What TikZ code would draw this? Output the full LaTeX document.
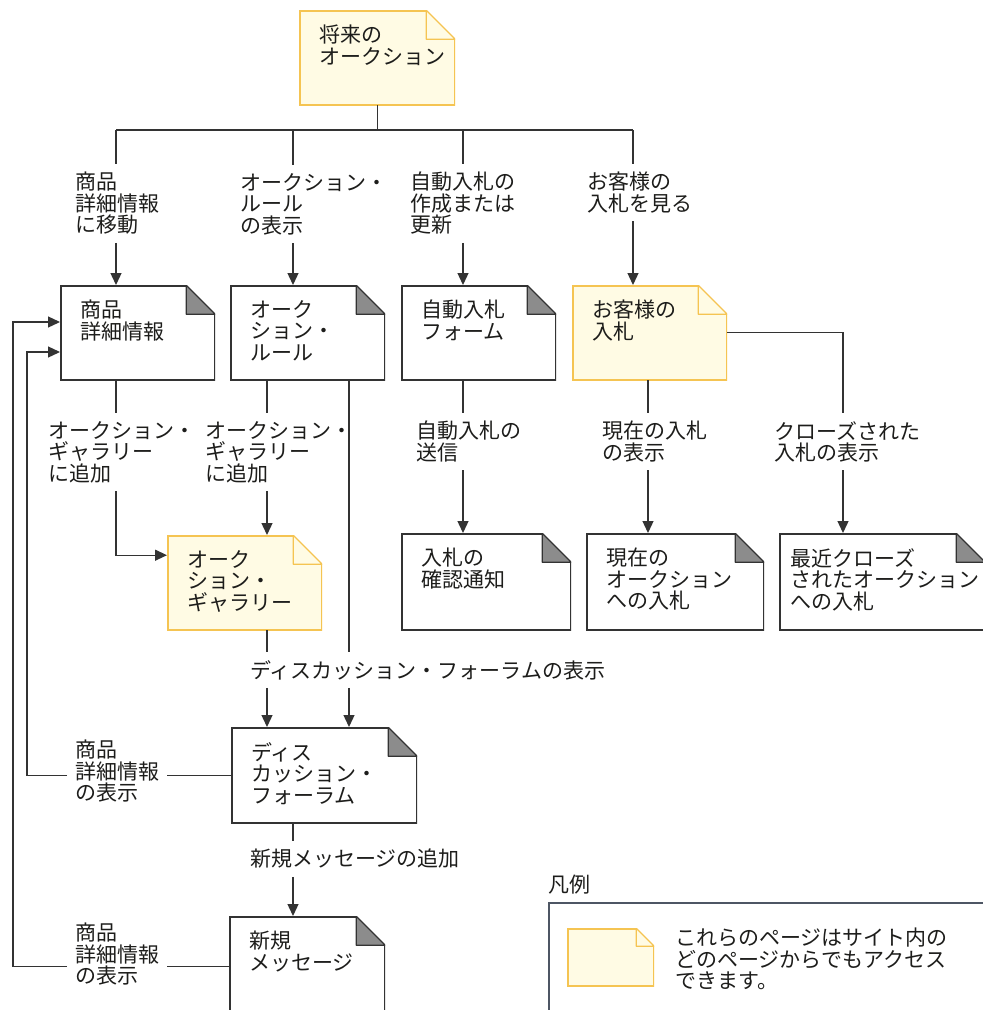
\documentclass[tikz,border=0pt]{standalone}
\usepackage{fontspec}
\setmainfont{Noto Sans CJK JP}
\usetikzlibrary{arrows.meta}
\definecolor{colorline}  {RGB}{51 ,51 ,51 }
\definecolor{colortext}  {RGB}{29 ,29 ,27 }
\definecolor{colorpage}  {RGB}{255,251,228}
\definecolor{colorborder}{RGB}{245,196,82 }
\definecolor{colorfold}  {RGB}{140,140,140}
\definecolor{colorlegend}{RGB}{78 ,86 ,100}
\def\foldsize{29pt}
\def\textinset{20pt}

\begin{document}
\begin{tikzpicture}[
    x=1pt, y=-1pt,
    font={\fontsize{21pt}{21.5pt}\selectfont},
    text=colortext,
    link/.style={draw=colorline,line width=1.3pt},
    linkarrow/.style={link,-{Triangle[length=12pt,width=11pt]}},
    txt/.style={anchor=north west,inner sep=8pt,align=left},
    sheet/.style n args={3}{anchor=north west,inner sep=0pt,fill=white,
        path picture={
            \fill[#1] ([xshift=-\foldsize]path picture bounding box.north east) -- (path picture bounding box.north west) -- (path picture bounding box.south west) -- (path picture bounding box.south east) -- ([yshift=-\foldsize]path picture bounding box.north east) -- cycle;
            \filldraw[fill=#3,draw=#2,line width=1.2pt,line join=round] ([xshift=-\foldsize]path picture bounding box.north east) -- ([xshift=-\foldsize,yshift=-\foldsize]path picture bounding box.north east) -- ([yshift=-\foldsize]path picture bounding box.north east) -- cycle;
            \draw[#2,line width=2.6pt] ([xshift=-\foldsize]path picture bounding box.north east) -- (path picture bounding box.north west) -- (path picture bounding box.south west) -- (path picture bounding box.south east) -- ([yshift=-\foldsize]path picture bounding box.north east);
        }},
    sheettext/.style 2 args={
        execute at begin node={\begin{minipage}[t][#2][t]{#1}\leftskip=\textinset\relax\vspace*{15pt}},
        execute at end node={\end{minipage}}},
    whitepage/.style 2 args={sheet={white}{colorline}{colorfold},sheettext={#1}{#2}},
    anypage/.style 2 args={sheet={colorpage}{colorborder}{colorpage},sheettext={#1}{#2}},
    small fold/.code={\def\foldsize{18pt}},
    narrow text/.code={\def\textinset{11pt}},
]
    \useasboundingbox (0,0) rectangle (983,1010);

    % Pages
    \node[anypage={156pt}{95pt}]                (future)   at (299,10)  {将来の\\オークション};
    \node[whitepage={155pt}{95pt}]              (detail)   at (60,285)  {商品\\詳細情報};
    \node[whitepage={155pt}{95pt}]              (rules)    at (230,285) {オーク\\ション・\\ルール};
    \node[whitepage={155pt}{95pt}]              (autoform) at (401,285) {自動入札\\フォーム};
    \node[anypage={155pt}{95pt}]                (mybids)   at (572,285) {お客様の\\入札};
    \node[anypage={155pt}{95pt}]                (gallery)  at (167,535) {オーク\\ション・\\ギャラリー};
    \node[whitepage={170pt}{97pt}]              (confirm)  at (401,533) {入札の\\確認通知};
    \node[whitepage={178pt}{97pt}]              (current)  at (586,533) {現在の\\オークション\\への入札};
    \node[whitepage={206pt}{97pt},narrow text]  (closed)   at (779,533) {最近クローズ\\されたオークション\\への入札};
    \node[whitepage={186pt}{96pt}]              (forum)    at (231,727) {ディス\\カッション・\\フォーラム};
    \node[whitepage={156pt}{110pt}]             (newmsg)   at (229,916) {新規\\メッセージ};

    % Labels
    \node[txt] (gotodetail)  at (67,164)  {商品\\詳細情報\\に移動};
    \node[txt] (showrules)   at (232,165) {オークション・\\ルール\\の表示};
    \node[txt] (editauto)    at (402,164) {自動入札の\\作成または\\更新};
    \node[txt] (viewbids)    at (579,164) {お客様の\\入札を見る};
    \node[txt] (addgal1)     at (40,413)  {オークション・\\ギャラリー\\に追加};
    \node[txt] (addgal2)     at (197,413) {オークション・\\ギャラリー\\に追加};
    \node[txt] (sendauto)    at (408,413) {自動入札の\\送信};
    \node[txt] (showcurrent) at (594,413) {現在の入札\\の表示};
    \node[txt] (showclosed)  at (766,413) {クローズされた\\入札の表示};
    \node[txt] (showforum)   at (242,652) {ディスカッション・フォーラムの表示};
    \node[txt] (addmsg)      at (242,841) {新規メッセージの追加};
    \node[txt] (detailback1) at (67,732)  {商品\\詳細情報\\の表示};
    \node[txt] (detailback2) at (67,915)  {商品\\詳細情報\\の表示};

    % Columns
    \coordinate (bar1) at (116,130);
    \coordinate (bar2) at (293,130);
    \coordinate (bar3) at (463,130);
    \coordinate (bar4) at (633,130);
    \coordinate (colgal)    at (267,380);
    \coordinate (colforum)  at (349,380);
    \coordinate (colcur)    at (648,380);
    \coordinate (colclosed) at (843,330);
    \coordinate (ret1) at (27,352);
    \coordinate (ret2) at (13,322);
    \coordinate (galin)   at ([yshift=27.5pt]gallery.west);
    \coordinate (msgleft) at ([yshift=4.5pt]newmsg.west);

    % Top bar
    \draw[link] (future.south) -- (future.south |- bar1);
    \draw[link] (bar1) -- (bar4);
    \draw[link] (bar1) -- (bar1 |- gotodetail.north);
    \draw[link] (bar2) -- (bar2 |- showrules.north);
    \draw[link] (bar3) -- (bar3 |- editauto.north);
    \draw[link] (bar4) -- (bar4 |- viewbids.north);
    \draw[linkarrow] (bar1 |- gotodetail.south) -- (bar1 |- detail.north);
    \draw[linkarrow] (bar2 |- showrules.south)  -- (bar2 |- rules.north);
    \draw[linkarrow] (bar3 |- editauto.south)   -- (bar3 |- autoform.north);
    \draw[linkarrow] (bar4 |- viewbids.south)   -- (bar4 |- mybids.north);

    % Second row
    \draw[link] (bar1 |- detail.south) -- (bar1 |- addgal1.north);
    \draw[linkarrow] (bar1 |- addgal1.south) |- (galin);
    \draw[link] (colgal |- rules.south) -- (colgal |- addgal2.north);
    \draw[linkarrow] (colgal |- addgal2.south) -- (colgal |- gallery.north);
    \draw[link] (colforum |- rules.south) -- (colforum |- showforum.north);
    \draw[linkarrow] (colforum |- showforum.south) -- (colforum |- forum.north);
    \draw[link] (bar3 |- autoform.south) -- (bar3 |- sendauto.north);
    \draw[linkarrow] (bar3 |- sendauto.south) -- (bar3 |- confirm.north);
    \draw[link] (colcur |- mybids.south) -- (colcur |- showcurrent.north);
    \draw[linkarrow] (colcur |- showcurrent.south) -- (colcur |- current.north);
    \draw[link] (mybids.east) -| (colclosed |- showclosed.north);
    \draw[linkarrow] (colclosed |- showclosed.south) -- (colclosed |- closed.north);

    % Forum and messages
    \draw[link] (colgal |- gallery.south) -- (colgal |- showforum.north);
    \draw[linkarrow] (colgal |- showforum.south) -- (colgal |- forum.north);
    \draw[link] (bar2 |- forum.south) -- (bar2 |- addmsg.north);
    \draw[linkarrow] (bar2 |- addmsg.south) -- (bar2 |- newmsg.north);

    % Back to product details
    \draw[link] (forum.west) -- (detailback1.east |- forum.west);
    \draw[linkarrow] (detailback1.west |- forum.west) -| (ret1) -- (ret1 -| detail.west);
    \draw[link] (msgleft) -- (detailback2.east |- msgleft);
    \draw[linkarrow] (detailback2.west |- msgleft) -| (ret2) -- (ret2 -| detail.west);

    % Legend
    \node[anchor=north west,inner sep=0pt] (legendtitle) at (548,875) {凡例};
    \node[draw=colorlegend,line width=1.5pt,anchor=north west,minimum width=480pt,minimum height=150pt] (legend) at (548,902) {};
    \node[sheet={colorpage}{colorborder}{colorpage},small fold,minimum width=87pt,minimum height=58pt] (iconpage) at (567,928) {};
    \node[anchor=north west,inner sep=0pt,align=left] (legendtext) at (675,928) {これらのページはサイト内の\\どのページからでもアクセス\\できます。};

\end{tikzpicture}
\end{document}
